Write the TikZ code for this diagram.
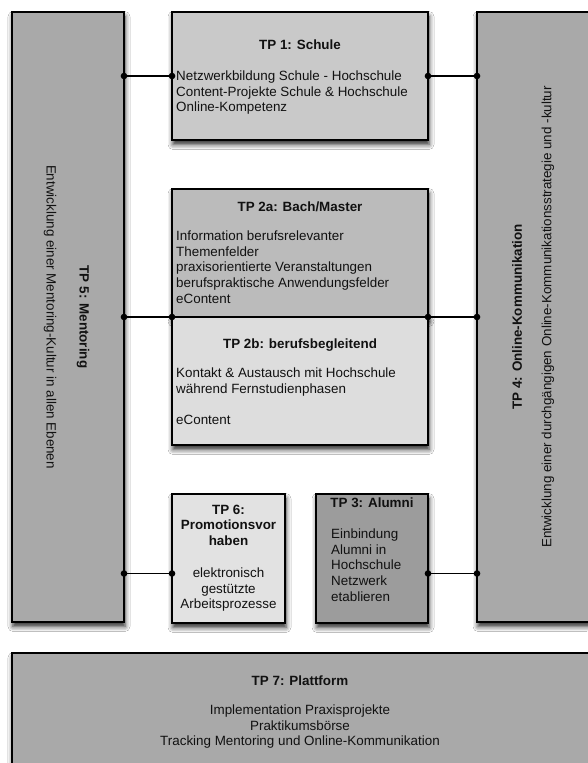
\documentclass[tikz,border=0pt]{standalone}
\usepackage{fontspec}
\setmainfont{Liberation Sans}
\usetikzlibrary{shadows.blur,arrows.meta}
\newcommand\txtsize{\fontsize{13.4}{15.6}\selectfont}
\definecolor{outerfill}{HTML}{A9A9A9}
\definecolor{schulefill}{HTML}{C9C9C9}
\definecolor{bachfill}{HTML}{BBBBBB}
\definecolor{berufsfill}{HTML}{DDDDDD}
\definecolor{promofill}{HTML}{E2E2E2}
\definecolor{alumnifill}{HTML}{9C9C9C}
\definecolor{inktext}{HTML}{111111}
\begin{document}
\begin{tikzpicture}[x=1pt,y=-1pt,
  box/.style={draw=black, line width=1.6pt, rectangle, anchor=north west,
    inner sep=0pt, outer sep=0pt,
    blur shadow={shadow xshift=1pt, shadow yshift=-4.5pt,
      shadow blur radius=5pt, shadow opacity=85}},
  title/.style={font=\txtsize\bfseries, text=inktext, inner sep=0pt, anchor=base},
  ctitle/.style={font=\txtsize\bfseries, text=inktext, inner sep=0pt, align=center, anchor=north},
  body/.style={font=\txtsize, text=inktext, inner sep=0pt, align=left, anchor=north west},
  cbody/.style={font=\txtsize, text=inktext, inner sep=0pt, align=center, anchor=north},
  side/.style={font=\txtsize, text=inktext, inner sep=0pt, anchor=center},
  link/.style={line width=1.6pt, {Circle[length=6.5pt]}-{Circle[length=6.5pt]},
    shorten <=-3.25pt, shorten >=-3.25pt},
]
% page
\fill[white] (0,0) rectangle (587,763);
\useasboundingbox (0,0) rectangle (587,763);

% boxes
\node[box, fill=outerfill, minimum width=112pt, minimum height=610pt] (tp5) at (12,12) {};
\node[box, fill=outerfill, minimum width=130pt, minimum height=610pt] (tp4) at (477,12) {};
\node[box, fill=schulefill, minimum width=256pt, minimum height=128pt] (tp1) at (172,12) {};
\node[box, fill=bachfill, minimum width=256pt, minimum height=128pt] (tp2a) at (172,189) {};
\node[box, fill=berufsfill, minimum width=256pt, minimum height=128pt] (tp2b) at (172,317) {};
\node[box, fill=promofill, minimum width=113pt, minimum height=129pt] (tp6) at (172,494) {};
\node[box, fill=alumnifill, minimum width=112pt, minimum height=129pt] (tp3) at (316,494) {};
\node[box, fill=outerfill, minimum width=590pt, minimum height=130pt] (tp7) at (12,653) {};

% TP 5 (left column)
\node[side, font=\txtsize\bfseries, rotate=-90] (tp5t) at (83,317) {TP 5: Mentoring};
\node[side, rotate=-90] (tp5s) at (50,317) {Entwicklung einer Mentoring-Kultur in allen Ebenen};

% TP 4 (right column)
\node[side, font=\txtsize\bfseries, rotate=90] (tp4t) at (517,317) {TP 4: Online-Kommunikation};
\node[side, rotate=90] (tp4s) at (548,317) {Entwicklung einer durchgängigen Online-Kommunikationsstrategie und -kultur};

% TP 1
\node[title] (tp1t) at (300,49.8) {TP 1: Schule};
\node[body] (tp1b) at (176,69.6) {\strut Netzwerkbildung Schule - Hochschule\\Content-Projekte Schule \& Hochschule\\Online-Kompetenz};

% TP 2a / 2b
\node[title] (tp2at) at (300,211) {TP 2a: Bach/Master};
\node[body] (tp2ab) at (176,229.6) {\strut Information berufsrelevanter\\Themenfelder\\praxisorientierte Veranstaltungen\\berufspraktische Anwendungsfelder\\eContent};
\node[title] (tp2bt) at (300,348) {TP 2b: berufsbegleitend};
\node[body] (tp2bb) at (176,366.6) {\strut Kontakt \& Austausch mit Hochschule\\während Fernstudienphasen\\[15.6pt]eContent};

% TP 6
\node[ctitle] (tp6t) at (228.5,503) {\strut TP 6:\\Promotionsvor\\haben};
\node[cbody] (tp6b) at (228.5,566.6) {\strut elektronisch\\gestützte\\Arbeitsprozesse};

% TP 3
\node[title] (tp3t) at (372,507) {TP 3: Alumni};
\node[body] (tp3b) at (331,527.6) {\strut Einbindung\\Alumni in\\Hochschule\\Netzwerk\\etablieren};

% TP 7
\node[title] (tp7t) at (300,685) {TP 7: Plattform};
\node[cbody] (tp7b) at (300,703.6) {\strut Implementation Praxisprojekte\\Praktikumsbörse\\Tracking Mentoring und Online-Kommunikation};

% connectors
\coordinate (j6) at ([yshift=-15pt]tp6.west);
\coordinate (j3) at ([yshift=-15pt]tp3.east);
\draw[link] (tp5.east |- tp1.west) -- (tp1.west);
\draw[link] (tp1.east) -- (tp4.west |- tp1.east);
\draw[link] (tp5.east |- tp2a.south west) -- (tp2a.south west);
\draw[link] (tp2a.south east) -- (tp4.west |- tp2a.south east);
\draw[link] (tp5.east |- j6) -- (j6);
\draw[link] (j3) -- (tp4.west |- j3);
\end{tikzpicture}
\end{document}
